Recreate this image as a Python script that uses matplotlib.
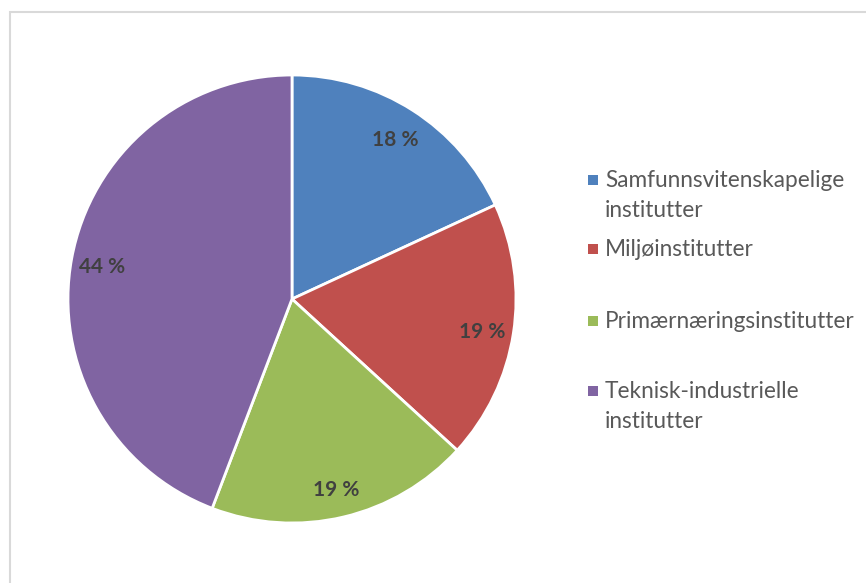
import matplotlib
matplotlib.use("Agg")
import matplotlib.pyplot as plt
from matplotlib.patches import Rectangle

# Andel per instituttgruppe (prosent)
categories = ["Samfunnsvitenskapelige\ninstitutter", "Miljøinstitutter",
              "Primærnæringsinstitutter", "Teknisk-industrielle\ninstitutter"]
shares = [18.1, 18.7, 19.0, 44.2]
colors = ["#4F81BD", "#C0504D", "#9BBB59", "#8064A2"]

W, H = 866, 583
fig = plt.figure(figsize=(W / 100, H / 100), dpi=100)
plt.rcParams['font.family'] = ['Lato', 'DejaVu Sans']

# chart area border
fig.patches.append(Rectangle((10 / W, -0.1), 1.0, 1.1 - 12 / H,
                             transform=fig.transFigure, fill=False,
                             edgecolor="#D9D9D9", linewidth=1.5))

cx, cy, r = 292, 299, 224
ax = fig.add_axes([(cx - r) / W, (H - cy - r) / H, 2 * r / W, 2 * r / H])
wedges, texts, autotexts = ax.pie(
    shares, colors=colors, startangle=90, counterclock=False,
    autopct=lambda p: f"{round(p)} %", pctdistance=0.86,
    wedgeprops=dict(edgecolor="white", linewidth=2),
    textprops=dict(color="#404040", fontsize=15, fontweight="bold"))
for t in autotexts:
    x, y = t.get_position()
    t.set_position((x, y - 0.015))
ax.set_xlim(-1, 1)
ax.set_ylim(-1, 1)
ax.set_aspect("equal")

# legend drawn by hand to match spacing
legend_y = [180, 249, 321, 391]
for name, col, y in zip(categories, colors, legend_y):
    fig.patches.append(Rectangle((588 / W, (H - y - 5) / H), 10 / W, 10 / H,
                                 transform=fig.transFigure, facecolor=col,
                                 edgecolor="none"))
    fig.text(605 / W, (H - y + 10) / H, name, fontsize=16.3, color="#595959",
             va="top", ha="left", linespacing=1.55)

fig.savefig("out.png", dpi=100)
